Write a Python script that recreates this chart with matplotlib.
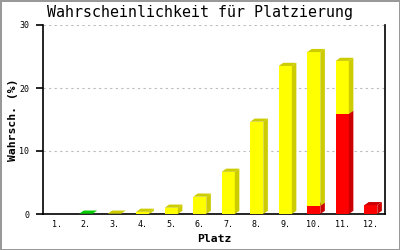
import matplotlib.pyplot as plt
from matplotlib.patches import Polygon

platz = ['1.', '2.', '3.', '4.', '5.', '6.', '7.', '8.', '9.', '10.', '11.', '12.']
gruen = [0, 0.05, 0, 0, 0, 0, 0, 0, 0, 0, 0, 0]
rot = [0, 0, 0, 0, 0, 0, 0, 0, 0, 1.3, 15.9, 1.4]
gelb = [0, 0, 0.05, 0.35, 1.0, 2.75, 6.7, 14.65, 23.5, 24.4, 8.4, 0]

mono = 'DejaVu Sans Mono'

fig = plt.figure(figsize=(4, 2.5), dpi=100)
fig.patch.set_edgecolor('#999999')
fig.patch.set_linewidth(2)
ax = fig.add_axes([0.1075, 0.144, 0.855, 0.756])

x = list(range(1, len(platz) + 1))
w = 0.46
dx = 0.16
dy = 0.5


def bar3d(xs, bottoms, heights, front, dark):
    for xi, b, h in zip(xs, bottoms, heights):
        if h <= 0:
            continue
        l, r = xi - w / 2, xi + w / 2
        t = b + h
        ax.bar(xi, h, w, bottom=b, color=front, linewidth=0, zorder=3)
        side = [(r, b), (r + dx, b + dy), (r + dx, t + dy), (r, t)]
        ax.add_patch(Polygon(side, closed=True, color=dark, linewidth=0, zorder=3))
        top = [(l, t), (l + dx, t + dy), (r + dx, t + dy), (r, t)]
        ax.add_patch(Polygon(top, closed=True, color=dark, linewidth=0, zorder=3))


bar3d(x, [0] * 12, gruen, '#00dd00', '#00cc00')
bar3d(x, [0] * 12, rot, '#ff0000', '#cc0000')
bar3d(x, rot, gelb, '#ffff00', '#cccc00')

ax.set_xlim(0.5, 12.5)
ax.set_ylim(0, 30)
ax.set_yticks([0, 10, 20, 30])
ax.set_xticks(x)
ax.set_xticklabels(platz)
for v in [10, 20, 30]:
    ax.axhline(v, color='#bbbbbb', linestyle=(0, (2, 3)), linewidth=0.8, zorder=1)

ax.spines['top'].set_visible(False)
for s in ['left', 'bottom', 'right']:
    ax.spines[s].set_linewidth(1.2)
ax.tick_params(axis='x', length=0, pad=4, labelsize=6)
ax.tick_params(axis='y', length=5, width=1.2, pad=5, labelsize=6)
for lab in ax.get_xticklabels() + ax.get_yticklabels():
    lab.set_family(mono)

fig.text(0.5, 0.948, 'Wahrscheinlichkeit für Platzierung', family=mono,
         fontsize=10.8, ha='center', va='center')
ax.set_xlabel('Platz', family=mono, fontsize=8.2, fontweight='bold', labelpad=4)
ax.set_ylabel('Wahrsch. (%)', family=mono, fontsize=8.2, fontweight='bold', labelpad=1)

fig.savefig('out.png', dpi=100)
